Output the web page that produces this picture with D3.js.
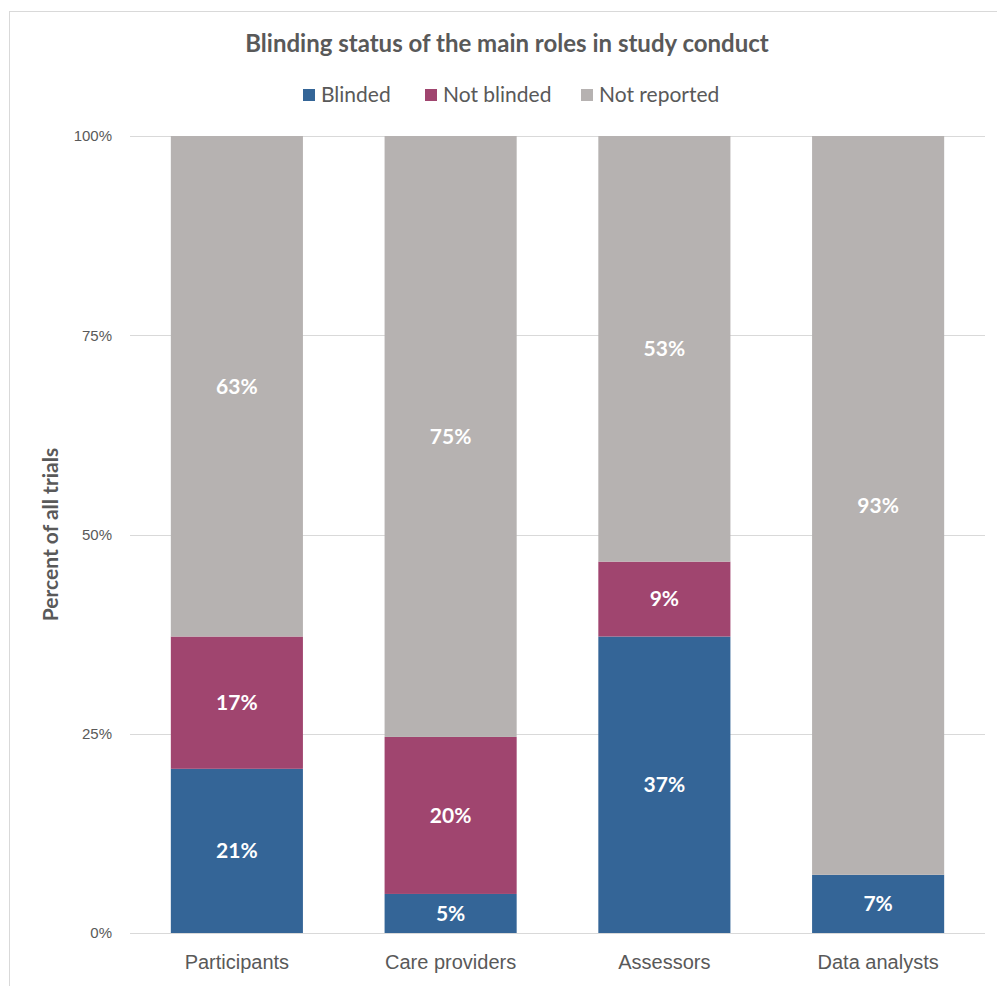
<!DOCTYPE html>
<html>
<head>
<meta charset="utf-8">
<script src="https://cdn.jsdelivr.net/npm/d3@7"></script>
<style>
  body { margin: 0; background: #fff; }
  svg { display: block; font-family: Lato, "Open Sans", sans-serif; }
</style>
</head>
<body>
<svg id="chart" width="997" height="986"></svg>
<script>
// chart data
const roles = ['Participants', 'Care providers', 'Assessors', 'Data analysts'];
const statuses = ['Blinded', 'Not blinded', 'Not reported'];
const blinded = [20.6, 4.9, 37.2, 7.3];
const notBlinded = [16.6, 19.7, 9.4, 0];
const notReported = [62.8, 75.4, 53.4, 92.7];
const yTicks = [0, 0.25, 0.5, 0.75, 1];
const colors = ['#346597', '#a0456f', '#b6b2b1'];

const svg = d3.select('#chart');
const margin = {top: 136, left: 130, right: 12, bottom: 53};
const width = 997 - margin.left - margin.right;
const height = 986 - margin.top - margin.bottom;

// outer chart border
svg.append('rect')
    .attr('x', 9.5).attr('y', 11.5)
    .attr('width', 1000).attr('height', 1000)
    .attr('fill', 'none')
    .attr('stroke', '#d9d9d9');

const rows = roles.map((r, i) => ({
  role: r,
  'Blinded': blinded[i],
  'Not blinded': notBlinded[i],
  'Not reported': notReported[i]
}));

const stack = d3.stack().keys(statuses).offset(d3.stackOffsetExpand);
const series = stack(rows);

const x = d3.scaleBand().domain(roles).range([0, width]).paddingInner(0.382).paddingOuter(0.191);
const y = d3.scaleLinear().domain([0, 1]).range([height, 0]);
const color = d3.scaleOrdinal().domain(statuses).range(colors);

const g = svg.append('g').attr('transform', `translate(${margin.left},${margin.top})`);

// gridlines
g.append('g')
    .selectAll('line')
    .data(yTicks)
    .join('line')
    .attr('x1', 0).attr('x2', width)
    .attr('y1', d => Math.round(y(d)) + 0.5)
    .attr('y2', d => Math.round(y(d)) + 0.5)
    .attr('stroke', '#d9d9d9')
    .attr('stroke-width', 1);

// y axis labels
const yAxis = g.append('g')
    .call(d3.axisLeft(y).tickValues(yTicks).tickFormat(d3.format('.0%')).tickSize(0).tickPadding(18));
yAxis.select('.domain').remove();
yAxis.selectAll('text')
    .attr('fill', '#595959')
    .style('font-size', '15px');

// bars
const layer = g.selectAll('.layer')
    .data(series)
    .join('g')
    .attr('class', 'layer')
    .attr('fill', d => color(d.key));

layer.selectAll('rect')
    .data(d => d)
    .join('rect')
    .attr('x', d => x(d.data.role))
    .attr('width', x.bandwidth())
    .attr('y', d => y(d[1]))
    .attr('height', d => y(d[0]) - y(d[1]));

// value labels
const fmt = d3.format('.0f');
series.forEach(s => {
  g.append('g')
    .selectAll('text')
    .data(s.filter(d => d.data[s.key] > 0))
    .join('text')
    .attr('x', d => x(d.data.role) + x.bandwidth() / 2)
    .attr('y', d => (y(d[0]) + y(d[1])) / 2)
    .attr('dy', '0.35em')
    .attr('text-anchor', 'middle')
    .attr('fill', '#fff')
    .style('font-size', '21px')
    .style('font-weight', 'bold')
    .text(d => fmt(d.data[s.key]) + '%');
});

// x axis labels
const xAxis = g.append('g')
    .attr('transform', `translate(0,${height})`)
    .call(d3.axisBottom(x).tickSize(0).tickPadding(22));
xAxis.select('.domain').remove();
xAxis.selectAll('text')
    .attr('fill', '#595959')
    .style('font-size', '20px');

// y axis title
svg.append('text')
    .attr('transform', `translate(58,${margin.top + height / 2}) rotate(-90)`)
    .attr('text-anchor', 'middle')
    .attr('fill', '#595959')
    .style('font-size', '21px')
    .style('font-weight', 'bold')
    .text('Percent of all trials');

// title
svg.append('text')
    .attr('x', 507).attr('y', 52)
    .attr('text-anchor', 'middle')
    .attr('fill', '#595959')
    .style('font-size', '24px')
    .style('font-weight', 'bold')
    .text('Blinding status of the main roles in study conduct');

// legend
const legendX = [303, 425, 581];
const legend = svg.append('g')
    .selectAll('g')
    .data(statuses)
    .join('g')
    .attr('transform', (d, i) => `translate(${legendX[i]},95)`);
legend.append('rect')
    .attr('x', 0).attr('y', -6)
    .attr('width', 12).attr('height', 12)
    .attr('fill', d => color(d));
legend.append('text')
    .attr('x', 18).attr('y', 0)
    .attr('dy', '0.35em')
    .attr('fill', '#595959')
    .style('font-size', '21px')
    .text(d => d);
</script>
</body>
</html>
